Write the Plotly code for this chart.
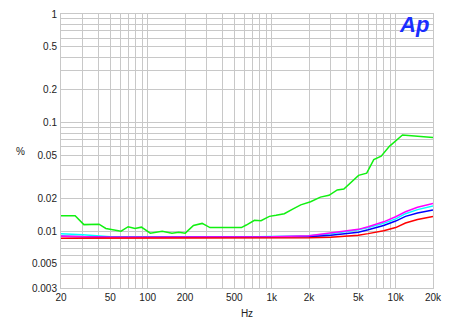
import numpy as np
import plotly.graph_objects as go

# Green trace (frequency, %)
green_f = [20, 26, 30.6, 40.5, 46, 61, 69.6, 79, 89, 105, 131, 157, 178, 201, 234, 275, 318,
           570, 624, 726, 820, 958, 1085, 1264, 1477, 1716, 2060, 2470, 2900, 3380, 3820,
           5020, 5840, 6660, 7640, 8900, 11350, 20000]
green_v = [0.0139, 0.0139, 0.0115, 0.0116, 0.0106, 0.0100, 0.0110, 0.0106, 0.0109, 0.0096,
           0.0100, 0.0096, 0.0098, 0.0096, 0.0113, 0.0118, 0.0108,
           0.0108, 0.0114, 0.0126, 0.0125, 0.0137, 0.0140, 0.0145, 0.0160, 0.0175, 0.0187,
           0.0206, 0.0214, 0.0240, 0.0245, 0.0327, 0.0342, 0.0457, 0.0491, 0.0605, 0.0769, 0.0731]

freq = [20, 30, 50, 100, 200, 500, 1000, 2000, 3000, 4000, 5000, 6000, 7000, 8000,
        10000, 12000, 15000, 20000]
cyan_v = [0.0095, 0.0093, 0.0089, 0.0088, 0.0088, 0.0088, 0.0089, 0.0091, 0.0095, 0.0099,
          0.0103, 0.0108, 0.0113, 0.0118, 0.0130, 0.0145, 0.0158, 0.0171]
magenta_v = [0.0090, 0.0089, 0.0088, 0.0088, 0.0088, 0.0088, 0.0089, 0.0091, 0.0096, 0.0100,
             0.0104, 0.0110, 0.0116, 0.0122, 0.0136, 0.0151, 0.0166, 0.0180]
blue_v = [0.0090, 0.0089, 0.0088, 0.0088, 0.0088, 0.0088, 0.0088, 0.0089, 0.0092, 0.0095,
          0.0098, 0.0103, 0.0108, 0.0113, 0.0124, 0.0137, 0.0147, 0.0157]
red_v = [0.0086, 0.0086, 0.0087, 0.0087, 0.0087, 0.0087, 0.0087, 0.0087, 0.0088, 0.0090,
         0.0092, 0.0095, 0.0098, 0.0101, 0.0108, 0.0119, 0.0128, 0.0137]

x_tickvals = [20, 50, 100, 200, 500, 1000, 2000, 5000, 10000, 20000]
x_ticktext = ["20", "50", "100", "200", "500", "1k", "2k", "5k", "10k", "20k"]
y_tickvals = [0.003, 0.005, 0.01, 0.02, 0.05, 0.1, 0.2, 0.5, 1]
y_ticktext = ["0.003", "0.005", "0.01", "0.02", "0.05", "0.1", "0.2", "0.5", "1"]

x_minor = [m * 10 ** d for d in range(1, 5) for m in range(1, 10) if 20 <= m * 10 ** d <= 20000]
y_minor = [m * 10.0 ** d for d in range(-3, 1) for m in range(1, 10) if 0.003 <= m * 10.0 ** d <= 1]

fig = go.Figure()
for name, v, c in [("cyan", cyan_v, "#00ffff"), ("blue", blue_v, "#0000ff"),
                   ("magenta", magenta_v, "#ff00ff"), ("red", red_v, "#ff0000")]:
    fig.add_trace(go.Scatter(x=freq, y=v, mode="lines", line=dict(color=c, width=1.5),
                             name=name, showlegend=False))
fig.add_trace(go.Scatter(x=green_f, y=green_v, mode="lines", line=dict(color="#11f011", width=1.5),
                         name="green", showlegend=False))

font = dict(family="Liberation Sans, Arial, sans-serif", size=10, color="#222222")
grid = "#c8c8c8"
fig.update_layout(
    width=450, height=329,
    margin=dict(l=61, r=13, t=8, b=41),
    paper_bgcolor="white", plot_bgcolor="white",
    font=font,
    xaxis=dict(type="log", range=[np.log10(20), np.log10(20000)],
               tickvals=x_tickvals, ticktext=x_ticktext, ticks="", showgrid=True,
               gridcolor=grid, gridwidth=1, zeroline=False, showline=True,
               linecolor=grid, mirror=True,
               minor=dict(tickvals=x_minor, showgrid=True, gridcolor=grid, gridwidth=1),
               title=dict(text="Hz", standoff=7, font=font)),
    yaxis=dict(type="log", range=[np.log10(0.003), 0],
               tickvals=y_tickvals, ticktext=y_ticktext, ticks="", showgrid=True,
               gridcolor=grid, gridwidth=1, zeroline=False, showline=True,
               linecolor=grid, mirror=True, ticklabelstandoff=1,
               minor=dict(tickvals=y_minor, showgrid=True, gridcolor=grid, gridwidth=1),
               title=dict(text="", font=font)),
)
fig.add_annotation(text="%", xref="paper", yref="paper", x=-0.109, y=0.50, showarrow=False,
                   font=font, xanchor="center", yanchor="middle")
fig.add_annotation(text="<b><i>Ap</i></b>", xref="paper", yref="paper", x=0.995, y=1.0,
                   yshift=4, showarrow=False, xanchor="right", yanchor="top",
                   font=dict(family="Liberation Sans, Arial, sans-serif", size=22, color="#1a2eff"))
fig.write_html("out.html")
